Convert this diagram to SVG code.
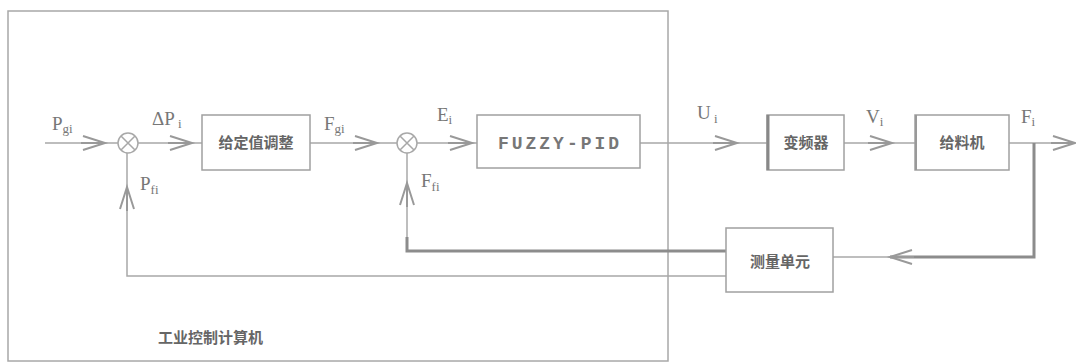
<svg xmlns="http://www.w3.org/2000/svg" width="1076" height="363" viewBox="0 0 1076 363">
<style>
.ln{stroke:#a8a8a8;stroke-width:1.5;fill:none}
.thk{stroke:#8c8c8c;stroke-width:3;fill:none}
.box{stroke:#a0a0a0;stroke-width:1.5;fill:#fff}
.ch{stroke:#999;stroke-width:2;fill:none}
.lbl{font-family:"Liberation Serif",serif;font-size:19px;fill:#777}
.sub{font-size:13px}
.cn{font-family:"Noto Sans CJK SC",sans-serif;font-size:15px;fill:#666;font-weight:bold}
.fz{font-family:"Liberation Mono",monospace;font-size:18px;fill:#777;font-weight:bold;letter-spacing:3px}
</style>
<defs>
<path id="chev" d="M-22,-7 L0,0 L-22,7 M-24,0 L0,0" class="ch"/>
<g id="sum"><circle r="10" class="ln"/><path d="M-7,-7 L7,7 M7,-7 L-7,7" class="ln"/></g>
</defs>
<rect id="computer" x="8" y="11" width="660" height="350" class="ln"/>
<g id="connectors">
<path class="ln" d="M45,143 H118 M138,143 H202 M310,143 H397 M417,143 H477 M640,143 H767 M844,143 H915 M1009,143 H1075"/>
<path class="thk" d="M1034,143 V257 H890"/>
<path class="ln" d="M890,257 H833"/>
<path class="thk" d="M726,251 H407 V237"/>
<path class="ln" d="M407,237 V153"/>
<path class="ln" d="M726,276 H127 V153"/>
<use href="#chev" x="105" y="143"/>
<use href="#chev" x="192" y="143"/>
<use href="#chev" x="377" y="143"/>
<use href="#chev" x="472" y="143"/>
<use href="#chev" x="737" y="143"/>
<use href="#chev" x="892" y="143"/>
<use href="#chev" x="1075" y="143"/>
<use href="#chev" transform="translate(127,187) rotate(-90)"/>
<use href="#chev" transform="translate(407,183) rotate(-90)"/>
<use href="#chev" transform="translate(890,257) rotate(180)"/>
</g>
<g id="sum1"><use href="#sum" x="128" y="143"/></g>
<g id="sum2"><use href="#sum" x="407" y="143"/></g>
<g id="setpoint"><rect x="202" y="115" width="108" height="55" class="box"/><text x="256" y="148" text-anchor="middle" class="cn">给定值调整</text></g>
<g id="fuzzypid"><rect x="477" y="115" width="163" height="53" class="box"/><text x="560" y="149" text-anchor="middle" class="fz">FUZZY-PID</text></g>
<g id="inverter"><rect x="767" y="115" width="77" height="55" class="box"/><path d="M768,115 V170" stroke="#888" stroke-width="3"/><text x="806" y="148" text-anchor="middle" class="cn">变频器</text></g>
<g id="feeder"><rect x="915" y="115" width="94" height="55" class="box"/><path d="M916,115 V170" stroke="#999" stroke-width="2"/><text x="962" y="148" text-anchor="middle" class="cn">给料机</text></g>
<g id="measure"><rect x="726" y="228" width="107" height="64" class="box"/><text x="780" y="267" text-anchor="middle" class="cn">测量单元</text></g>
<g id="labels">
<text x="52" y="130" class="lbl">P<tspan class="sub" dy="3">gi</tspan></text>
<text x="152" y="125" class="lbl">ΔP<tspan class="sub" dy="3"> i</tspan></text>
<text x="140" y="190" class="lbl">P<tspan class="sub" dy="4">fi</tspan></text>
<text x="324" y="130" class="lbl">F<tspan class="sub" dy="3">gi</tspan></text>
<text x="437" y="121" class="lbl">E<tspan class="sub" dy="3">i</tspan></text>
<text x="421" y="187" class="lbl">F<tspan class="sub" dy="4">fi</tspan></text>
<text x="697" y="119" class="lbl">U<tspan class="sub" dy="4"> i</tspan></text>
<text x="866" y="123" class="lbl">V<tspan class="sub" dy="3">i</tspan></text>
<text x="1021" y="123" class="lbl">F<tspan class="sub" dy="3">i</tspan></text>
<text x="158" y="343" class="cn">工业控制计算机</text>
</g>
</svg>
